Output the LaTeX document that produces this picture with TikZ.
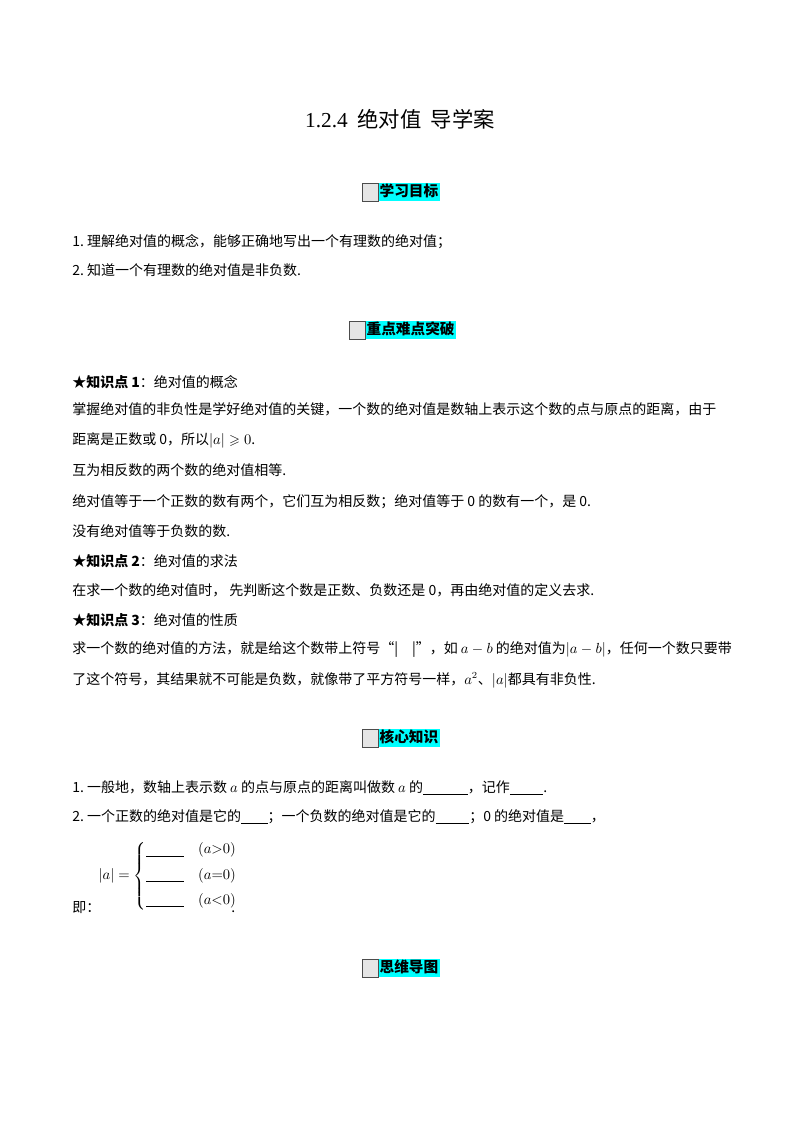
\documentclass[tikz,border=0pt]{standalone}
\usepackage{amssymb}
\usepackage{fontspec}
\setmainfont{Noto Sans CJK SC}
\newfontfamily\latinf{Liberation Serif}
\definecolor{hdcyan}{RGB}{0,255,255}
\begin{document}
\begin{tikzpicture}[x=0.75pt,y=-0.75pt,
  txt/.style={anchor=base west,inner sep=0pt,font=\fontsize{10.5}{12}\selectfont},
  hd/.style={anchor=west,inner sep=0pt,fill=hdcyan,minimum height=13pt,font=\fontsize{11}{12}\selectfont\bfseries,text height=9pt,text depth=2pt,inner xsep=1pt},
  gbox/.style={draw=black!70,fill=black!10,line width=0.6pt}]
\useasboundingbox (0,0) rectangle (800,1132);
\node[anchor=base,inner sep=0pt,font=\fontsize{16}{18}\selectfont] (title) at (400,127) {{\latinf 1.2.4}\ \ 绝对值\ \ 导学案};

\node[hd] (h1) at (378,192) {学习目标};
\draw[gbox] (h1.north west) rectangle ([xshift=-12pt]h1.south west);
\node[txt] (l1) at (72,246) {1.\ 理解绝对值的概念，能够正确地写出一个有理数的绝对值；};
\node[txt] (l2) at (72,275) {2.\ 知道一个有理数的绝对值是非负数.};

\node[hd] (h2) at (365,330) {重点难点突破};
\draw[gbox] (h2.north west) rectangle ([xshift=-12pt]h2.south west);
\node[txt] (k1) at (72,387) {\textbf{★知识点 1}：绝对值的概念};
\node[txt] (k1a) at (72,414) {掌握绝对值的非负性是学好绝对值的关键，一个数的绝对值是数轴上表示这个数的点与原点的距离，由于};
\node[txt] (k1b) at (72,444) {距离是正数或 0，所以$|a|\geqslant 0$.};
\node[txt] (k1c) at (72,475) {互为相反数的两个数的绝对值相等.};
\node[txt] (k1d) at (72,506) {绝对值等于一个正数的数有两个，它们互为相反数；绝对值等于 0 的数有一个，是 0.};
\node[txt] (k1e) at (72,536) {没有绝对值等于负数的数.};
\node[txt] (k2) at (72,566) {\textbf{★知识点 2}：绝对值的求法};
\node[txt] (k2a) at (72,595) {在求一个数的绝对值时，\ 先判断这个数是正数、负数还是 0，再由绝对值的定义去求.};
\node[txt] (k3) at (72,625) {\textbf{★知识点 3}：绝对值的性质};
\node[txt] (k3a) at (72,653) {求一个数的绝对值的方法，就是给这个数带上符号“|\quad|”，如 $a-b$ 的绝对值为$|a-b|$，任何一个数只要带};
\node[txt] (k3b) at (72,684) {了这个符号，其结果就不可能是负数，就像带了平方符号一样，$a^2$、$|a|$都具有非负性.};

\node[hd] (h3) at (378,738) {核心知识};
\draw[gbox] (h3.north west) rectangle ([xshift=-12pt]h3.south west);
\node[txt] (c1) at (72,792) {1.\ 一般地，数轴上表示数 $a$ 的点与原点的距离叫做数 $a$ 的\underline{\hspace{3.2em}}，记作\underline{\hspace{2.4em}}.};
\node[txt] (c2) at (72,821) {2.\ 一个正数的绝对值是它的\underline{\hspace{1.9em}}；一个负数的绝对值是它的\underline{\hspace{2.4em}}；0 的绝对值是\underline{\hspace{1.9em}}，};
\node[txt] (ji) at (72,912) {即：};
\node[inner sep=0pt,font=\fontsize{10.5}{12}\selectfont] (f) at (168,876) {$|a|=\left\{\begin{array}{@{}l@{\quad}l@{}}\underline{\hspace{2.7em}} & (a{>}0)\\[7pt] \underline{\hspace{2.7em}} & (a{=}0)\\[7pt] \underline{\hspace{2.7em}} & (a{<}0)\end{array}\right.$};
\node[txt] (dot) at (231,912) {.};

\node[hd] (h4) at (378,968) {思维导图};
\draw[gbox] (h4.north west) rectangle ([xshift=-12pt]h4.south west);
\end{tikzpicture}
\end{document}
